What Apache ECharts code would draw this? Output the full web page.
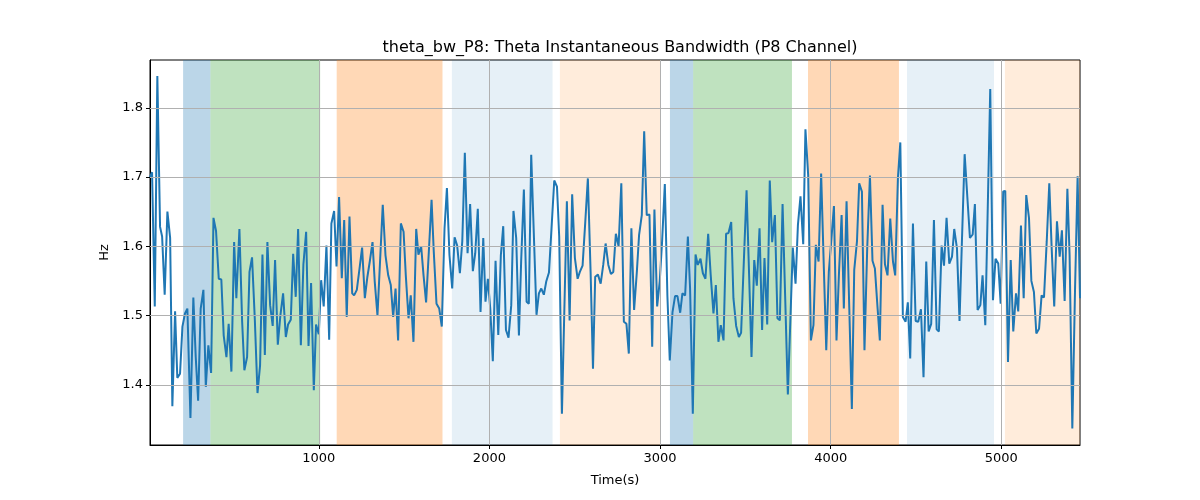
<!DOCTYPE html>
<html>
<head>
<meta charset="utf-8">
<script src="https://cdn.jsdelivr.net/npm/echarts@6/dist/echarts.min.js"></script>
<style>
    html, body { margin: 0; padding: 0; background: #fff; }
    #chart { width: 1200px; height: 500px; }
</style>
</head>
<body>
<div id="chart"></div>
<script>
// time axis (s)
var timeSec = [
    11, 23, 39, 54, 70, 82, 97, 113, 129, 142, 158, 171, 187, 201, 216, 230, 248, 265, 279, 293,
    308, 324, 338, 353, 369, 383, 398, 414, 429, 443, 459, 472, 488, 504, 517, 535, 551, 564, 580, 594,
    609, 625, 641, 656, 670, 684, 699, 715, 730, 744, 760, 775, 791, 807, 820, 836, 850, 865, 879, 895,
    910, 926, 940, 955, 971, 984, 1000, 1014, 1029, 1045, 1061, 1074, 1090, 1104, 1119, 1135, 1149, 1164, 1180, 1196,
    1207, 1223, 1239, 1254, 1270, 1285, 1299, 1315, 1328, 1344, 1375, 1391, 1407, 1422, 1436, 1450, 1465, 1481, 1497, 1510,
    1526, 1539, 1555, 1571, 1584, 1600, 1614, 1629, 1645, 1661, 1674, 1690, 1706, 1721, 1737, 1751, 1766, 1782, 1796, 1811,
    1827, 1841, 1856, 1872, 1887, 1903, 1917, 1932, 1948, 1964, 1977, 1991, 2005, 2020, 2036, 2052, 2067, 2081, 2097, 2112,
    2128, 2141, 2157, 2173, 2186, 2202, 2218, 2231, 2245, 2276, 2290, 2304, 2319, 2333, 2349, 2364, 2380, 2396, 2409, 2425,
    2454, 2470, 2485, 2501, 2517, 2530, 2546, 2562, 2577, 2593, 2607, 2620, 2636, 2652, 2667, 2681, 2697, 2712, 2726, 2741,
    2757, 2773, 2788, 2803, 2817, 2832, 2848, 2864, 2877, 2893, 2907, 2922, 2938, 2954, 2967, 2983, 2998, 3012, 3028, 3043,
    3057, 3073, 3088, 3102, 3118, 3131, 3147, 3163, 3176, 3192, 3208, 3221, 3237, 3251, 3266, 3282, 3297, 3313, 3327, 3342,
    3356, 3372, 3387, 3401, 3417, 3430, 3446, 3462, 3475, 3491, 3507, 3522, 3536, 3552, 3567, 3583, 3598, 3612, 3628, 3643,
    3657, 3673, 3688, 3702, 3718, 3733, 3749, 3778, 3794, 3808, 3823, 3839, 3852, 3868, 3884, 3899, 3913, 3929, 3944, 3960,
    3974, 3989, 4003, 4019, 4034, 4048, 4064, 4077, 4093, 4109, 4124, 4138, 4154, 4167, 4183, 4198, 4214, 4230, 4245, 4259,
    4275, 4288, 4304, 4318, 4333, 4349, 4365, 4378, 4394, 4408, 4423, 4439, 4452, 4466, 4482, 4498, 4513, 4529, 4544, 4560,
    4574, 4589, 4605, 4621, 4634, 4650, 4664, 4679, 4695, 4711, 4724, 4740, 4755, 4769, 4785, 4800, 4816, 4832, 4845, 4861,
    4877, 4890, 4906, 4935, 4951, 4966, 4982, 4996, 5011, 5023, 5039, 5055, 5070, 5086, 5099, 5115, 5131, 5146, 5162, 5176,
    5191, 5205, 5221, 5236, 5250, 5266, 5281, 5295, 5310, 5326, 5342, 5355, 5371, 5387, 5400, 5416, 5432, 5447, 5461
];

// theta bandwidth (Hz)
var thetaBw = [
    1.700, 1.707, 1.513, 1.846, 1.628, 1.614, 1.530, 1.650, 1.612, 1.369, 1.506, 1.410, 1.416, 1.484, 1.503, 1.510, 1.352, 1.526, 1.440, 1.377,
    1.510, 1.537, 1.397, 1.457, 1.417, 1.641, 1.622, 1.553, 1.552, 1.471, 1.440, 1.488, 1.419, 1.606, 1.525, 1.625, 1.491, 1.421, 1.440, 1.563,
    1.584, 1.496, 1.388, 1.428, 1.588, 1.443, 1.606, 1.515, 1.485, 1.580, 1.458, 1.500, 1.532, 1.469, 1.487, 1.494, 1.589, 1.527, 1.625, 1.457,
    1.574, 1.621, 1.456, 1.547, 1.392, 1.487, 1.473, 1.551, 1.513, 1.601, 1.465, 1.633, 1.651, 1.571, 1.671, 1.554, 1.638, 1.498, 1.643, 1.532,
    1.529, 1.537, 1.568, 1.598, 1.525, 1.556, 1.578, 1.606, 1.549, 1.500, 1.660, 1.587, 1.558, 1.544, 1.498, 1.539, 1.464, 1.633, 1.621, 1.558,
    1.496, 1.529, 1.462, 1.625, 1.588, 1.600, 1.558, 1.519, 1.592, 1.667, 1.592, 1.517, 1.510, 1.484, 1.626, 1.684, 1.587, 1.539, 1.613, 1.601,
    1.561, 1.607, 1.735, 1.590, 1.661, 1.564, 1.590, 1.654, 1.505, 1.612, 1.520, 1.553, 1.510, 1.434, 1.579, 1.472, 1.587, 1.629, 1.479, 1.468,
    1.515, 1.651, 1.612, 1.471, 1.578, 1.682, 1.520, 1.517, 1.732, 1.501, 1.532, 1.539, 1.530, 1.549, 1.562, 1.626, 1.695, 1.686, 1.614, 1.358,
    1.665, 1.493, 1.675, 1.583, 1.553, 1.563, 1.572, 1.636, 1.698, 1.563, 1.423, 1.556, 1.559, 1.546, 1.573, 1.604, 1.573, 1.560, 1.563, 1.618,
    1.600, 1.691, 1.491, 1.488, 1.445, 1.626, 1.508, 1.563, 1.616, 1.645, 1.766, 1.645, 1.646, 1.455, 1.653, 1.513, 1.549, 1.607, 1.690, 1.529,
    1.435, 1.505, 1.528, 1.528, 1.504, 1.532, 1.529, 1.614, 1.539, 1.358, 1.588, 1.573, 1.582, 1.561, 1.553, 1.618, 1.558, 1.503, 1.544, 1.462,
    1.486, 1.464, 1.618, 1.619, 1.635, 1.525, 1.485, 1.469, 1.475, 1.578, 1.681, 1.558, 1.440, 1.580, 1.543, 1.626, 1.479, 1.583, 1.487, 1.695,
    1.606, 1.645, 1.496, 1.493, 1.661, 1.529, 1.386, 1.598, 1.546, 1.631, 1.672, 1.603, 1.769, 1.703, 1.464, 1.486, 1.602, 1.578, 1.705, 1.568,
    1.450, 1.563, 1.607, 1.658, 1.464, 1.558, 1.645, 1.510, 1.665, 1.510, 1.365, 1.566, 1.607, 1.691, 1.679, 1.450, 1.597, 1.702, 1.579, 1.568,
    1.510, 1.464, 1.660, 1.574, 1.558, 1.640, 1.578, 1.558, 1.699, 1.750, 1.498, 1.491, 1.519, 1.438, 1.633, 1.492, 1.491, 1.509, 1.411, 1.578,
    1.477, 1.488, 1.638, 1.480, 1.477, 1.601, 1.572, 1.641, 1.575, 1.585, 1.625, 1.597, 1.492, 1.607, 1.733, 1.674, 1.612, 1.617, 1.661, 1.508,
    1.515, 1.558, 1.486, 1.827, 1.522, 1.582, 1.575, 1.517, 1.679, 1.680, 1.433, 1.580, 1.477, 1.532, 1.506, 1.630, 1.525, 1.674, 1.641, 1.550,
    1.534, 1.474, 1.481, 1.529, 1.526, 1.607, 1.691, 1.597, 1.513, 1.636, 1.585, 1.623, 1.521, 1.683, 1.587, 1.337, 1.539, 1.701, 1.525
];

// shaded segments
var bandStart = [205, 365, 1105, 1780, 2413, 3058, 3194, 3867, 4447, 5021];
var bandEnd   = [365, 1008, 1725, 2370, 3001, 3194, 3773, 4400, 4957, 5461];
var bandColor = [
    'rgba(31,119,180,0.3)', 'rgba(44,160,44,0.3)', 'rgba(255,127,14,0.3)', 'rgba(31,119,180,0.11)', 'rgba(255,127,14,0.15)',
    'rgba(31,119,180,0.3)', 'rgba(44,160,44,0.3)', 'rgba(255,127,14,0.3)', 'rgba(31,119,180,0.11)', 'rgba(255,127,14,0.15)'
];

var xTicks = [1000, 2000, 3000, 4000, 5000];
var yTicks = [1.4, 1.5, 1.6, 1.7, 1.8];

var yMin = 1.313, yMax = 1.869;

var font = 'DejaVu Sans';

var lineData = timeSec.map(function (t, i) {
    return [t, thetaBw[i]];
});

var areas = bandStart.map(function (s, i) {
    return [{ xAxis: s, itemStyle: { color: bandColor[i] } }, { xAxis: bandEnd[i] }];
});

var gridLines = [];
xTicks.forEach(function (v) { gridLines.push({ xAxis: v }); });
yTicks.forEach(function (v) { gridLines.push({ yAxis: v }); });

var myChart = echarts.init(document.getElementById('chart'));

var option = {
    animation: false,
    title: {
        text: 'theta_bw_P8: Theta Instantaneous Bandwidth (P8 Channel)',
        left: 615,
        textAlign: 'center',
        top: 35,
        textStyle: {
            fontFamily: font,
            fontSize: 16,
            fontWeight: 'normal',
            color: '#000'
        }
    },
    grid: {
        left: 150,
        right: 120,
        top: 60,
        bottom: 55,
        show: true,
        borderColor: '#000',
        borderWidth: 1
    },
    xAxis: {
        type: 'value',
        min: timeSec[0],
        max: timeSec[timeSec.length - 1],
        name: 'Time(s)',
        nameLocation: 'middle',
        nameGap: 29,
        nameTextStyle: { fontFamily: font, fontSize: 13, color: '#000' },
        axisLine: { show: true, lineStyle: { color: '#000' } },
        axisTick: { show: true, length: 4, customValues: xTicks, lineStyle: { color: '#000' } },
        axisLabel: {
            customValues: xTicks,
            margin: 7,
            fontFamily: font,
            fontSize: 13,
            color: '#000',
            formatter: function (value) {
                return String(value);
            }
        },
        splitLine: { show: false }
    },
    yAxis: {
        type: 'value',
        min: yMin,
        max: yMax,
        name: 'Hz',
        nameLocation: 'middle',
        nameRotate: 90,
        nameGap: 38,
        nameTextStyle: { fontFamily: font, fontSize: 13, color: '#000' },
        axisLine: { show: true, lineStyle: { color: '#000' } },
        axisTick: { show: true, length: 4, customValues: yTicks, lineStyle: { color: '#000' } },
        axisLabel: {
            customValues: yTicks,
            margin: 7,
            fontFamily: font,
            fontSize: 13,
            color: '#000',
            formatter: function (value) {
                return value.toFixed(1);
            }
        },
        splitLine: { show: false }
    },
    series: [
        {
            name: 'bands',
            type: 'line',
            data: [],
            silent: true,
            z: 1,
            markArea: {
                silent: true,
                data: areas
            }
        },
        {
            name: 'grid',
            type: 'line',
            data: [],
            silent: true,
            z: 2,
            markLine: {
                silent: true,
                symbol: 'none',
                label: { show: false },
                lineStyle: { color: '#b0b0b0', width: 1, type: 'solid' },
                data: gridLines
            }
        },
        {
            name: 'theta_bw',
            type: 'line',
            data: lineData,
            z: 3,
            showSymbol: false,
            symbol: 'none',
            lineStyle: { color: '#1f77b4', width: 2 },
            itemStyle: { color: '#1f77b4' }
        }
    ]
};

myChart.setOption(option);
</script>
</body>
</html>
